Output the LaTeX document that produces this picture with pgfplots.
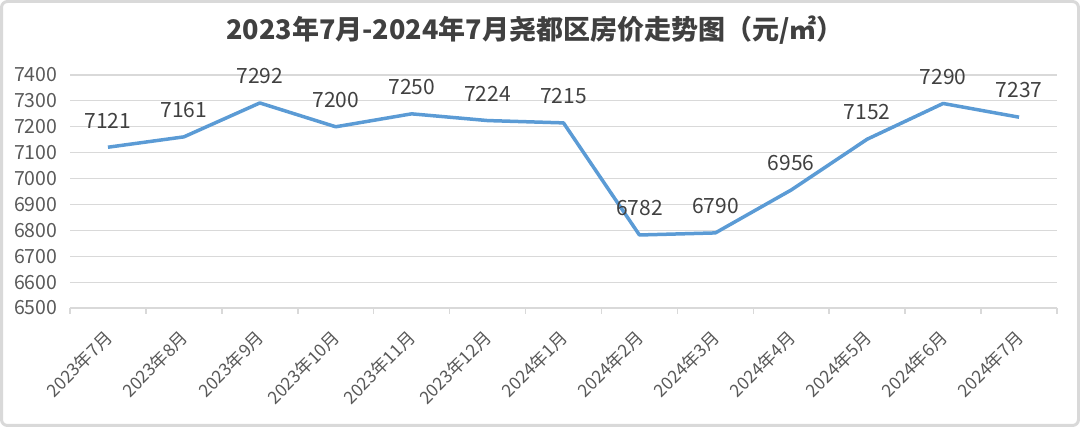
\documentclass[border=0pt]{standalone}
\usepackage{pgfplots}
\pgfplotsset{compat=1.18}
\usepackage{fontspec}
\setmainfont{Noto Sans CJK SC}
\definecolor{linec}{HTML}{5B9BD5}
\definecolor{gridc}{HTML}{D9D9D9}
\definecolor{tickc}{HTML}{595959}
\definecolor{labc}{HTML}{404040}
\begin{document}
\begin{tikzpicture}
\useasboundingbox (0pt,0pt) rectangle (1080pt,427pt);
\draw[gridc, line width=3pt, rounded corners=6pt] (1.5pt,1.5pt) rectangle (1078.5pt,425.5pt);
\node[font=\fontsize{27}{32}\selectfont\bfseries, text=labc] at (535pt,397pt) {2023年7月-2024年7月尧都区房价走势图（元/㎡）};
\begin{axis}[
  at={(70pt,119pt)}, anchor=south west,
  width=987pt, height=233pt, scale only axis,
  xmin=0, xmax=13, ymin=6500, ymax=7400,
  ytick={6500,6600,...,7400},
  xtick={0.5,1.5,...,12.5},
  xticklabels={2023年7月,2023年8月,2023年9月,2023年10月,2023年11月,2023年12月,2024年1月,2024年2月,2024年3月,2024年4月,2024年5月,2024年6月,2024年7月},
  minor xtick={0,1,...,13},
  major tick length=0pt, minor tick length=6pt,
  tick align=outside,
  axis x line*=bottom, axis y line*=left,
  y axis line style={draw=none},
  x axis line style={gridc, line width=1.5pt},
  every tick/.style={gridc, line width=1.5pt},
  minor tick style={gridc, line width=1.5pt},
  ymajorgrids, major grid style={gridc, line width=1.2pt},
  ticklabel style={text=tickc},
  /pgf/number format/assume math mode=true,
  /pgf/number format/1000 sep={},
  y tick label style={font=\fontsize{19.5}{22}\selectfont, xshift=-9pt},
  x tick label style={font=\fontsize{17.5}{20}\selectfont, xshift=-5pt, yshift=-16pt, rotate=45, anchor=north east},
  nodes near coords,
  every node near coord/.append style={font=\fontsize{21}{24}\selectfont, text=labc, anchor=south, yshift=14pt},
  clip=false,
]
\addplot[linec, line width=3.5pt, line join=round, mark=none] coordinates {
(0.5,7121) (1.5,7161) (2.5,7292) (3.5,7200) (4.5,7250) (5.5,7224) (6.5,7215)
(7.5,6782) (8.5,6790) (9.5,6956) (10.5,7152) (11.5,7290) (12.5,7237)
};
\end{axis}
\end{tikzpicture}
\end{document}
